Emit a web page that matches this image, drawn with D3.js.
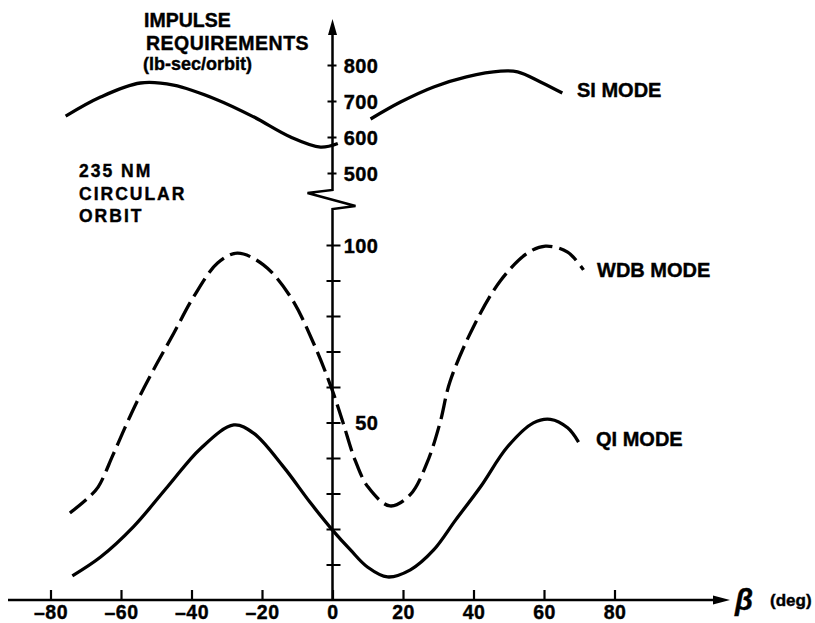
<!DOCTYPE html>
<html>
<head>
<meta charset="utf-8">
<script src="https://cdn.jsdelivr.net/npm/d3@7"></script>
<style>
  body { margin: 0; background: #fff; }
  svg { display: block; }
  text { font-family: "Liberation Sans", Arial, Helvetica, sans-serif; font-weight: bold; fill: #000; stroke: #000; stroke-width: 0.4px; }
</style>
</head>
<body>
<svg id="chart" width="815" height="623"></svg>
<script>
// ---- Data ----
const xTicks = [-80, -60, -40, -20, 0, 20, 40, 60, 80];
const upperTicks = [500, 600, 700, 800];
const lowerTicks = [10, 20, 30, 40, 50, 60, 70, 80, 90, 100];
const lowerLabels = [50, 100];

// SI mode (upper, broken scale), two segments
const siLeftBeta = [-75.7, -65.8, -54.5, -45.1, -32.6, -22.4, -11.9, -3.4, 1.5];
const siLeftVal  = [658, 711, 750, 744, 703, 656, 600, 572, 582];
const siRightBeta = [10.8, 19.3, 28.7, 38.0, 47.7, 52.5, 59.0, 65.2];
const siRightVal  = [650, 697, 739, 767, 783, 781, 753, 722];

// WDB mode (dashed, lower scale)
const wdbBeta = [-74.5, -69.4, -66.5, -62.3, -58.9, -55.5, -50.8, -45.0, -39.4, -32.6, -27.0, -19.6, -11.9, -5.4, -0.1, 3.0, 6.4, 10.1, 16.3, 22.0, 26.8, 30.5, 33.3, 40.0, 47.7, 55.3, 60.4, 66.7, 71.2];
const wdbVal  = [24.5, 28.7, 31.8, 40.8, 48.5, 55.8, 64.8, 75.2, 85.4, 94.9, 97.7, 94.4, 85.4, 72.4, 59.2, 49.9, 39.4, 31.8, 26.5, 29.6, 38.6, 49.9, 61.4, 77.0, 90.0, 97.7, 99.7, 98.0, 93.0];

// QI mode (solid, lower scale)
const qiBeta = [-73.8, -65.8, -56.5, -46.8, -37.4, -28.0, -22.4, -13.9, -6.2, 0, 5.1, 9.9, 15.6, 22.1, 28.7, 34.9, 42.0, 49.6, 57.0, 61.8, 66.7, 69.8];
const qiVal  = [6.8, 12.1, 20.6, 31.9, 42.7, 49.3, 47.0, 37.5, 27.3, 19.7, 14.1, 9.3, 6.5, 8.5, 14.1, 22.5, 31.9, 43.1, 49.9, 50.9, 48.5, 44.5];

const seriesLabels = ["SI MODE", "WDB MODE", "QI MODE"];
const titleLines = ["IMPULSE", "REQUIREMENTS", "(lb-sec/orbit)"];
const noteLines = ["235 NM", "CIRCULAR", "ORBIT"];

// ---- Scales ----
const svg = d3.select("#chart");
const x = d3.scaleLinear().domain([-80, 80]).range([50.5, 614.5]);
const yUp = d3.scaleLinear().domain([500, 800]).range([173, 65]);
const yLo = d3.scaleLinear().domain([0, 100]).range([600, 245]);
const x0 = x(0);

const zip = (a, b) => a.map((v, i) => [v, b[i]]);
const lineUp = d3.line().x(d => x(d[0])).y(d => yUp(d[1])).curve(d3.curveCatmullRom.alpha(0.5));
const lineLo = d3.line().x(d => x(d[0])).y(d => yLo(d[1])).curve(d3.curveCatmullRom.alpha(0.5));

// ---- Axes ----
const axisG = svg.append("g").attr("stroke", "#000").attr("fill", "none");
axisG.append("line").attr("x1", 8).attr("x2", 718).attr("y1", yLo(0)).attr("y2", yLo(0)).attr("stroke-width", 2.5);
svg.append("path").attr("d", `M730,${yLo(0)} L713,${yLo(0) - 4.5} L713,${yLo(0) + 4.5} Z`).attr("fill", "#000");

axisG.append("path")
  .attr("d", `M${x0},32 L${x0},190 L${x0 - 25},193 L${x0 + 23},206 L${x0},209 L${x0},${yLo(0)}`)
  .attr("stroke-width", 2.5).attr("stroke-linejoin", "miter");
svg.append("path").attr("d", `M${x0},19 L${x0 - 4.5},35 L${x0 + 4.5},35 Z`).attr("fill", "#000");

const xAxis = d3.axisBottom(x).tickValues(xTicks).tickSizeInner(-10).tickSizeOuter(0).tickFormat(d3.format("d"));
const gx = svg.append("g").attr("transform", `translate(0,${yLo(0)})`).call(xAxis);
gx.select(".domain").remove();
gx.selectAll(".tick line").attr("stroke", "#000").attr("stroke-width", 2.2);
gx.selectAll(".tick text").attr("y", 19).attr("dy", null)
  .style("font-size", "19.5px").style("font-weight", "bold").style("letter-spacing", "0.5px")
  .text(d => d < 0 ? "\u2013" + Math.abs(d) : d);

const yAxisUp = d3.axisRight(yUp).tickValues(upperTicks).tickSize(5).tickFormat(d3.format("d"));
const gyu = svg.append("g").attr("transform", `translate(${x0},0)`).call(yAxisUp);
gyu.select(".domain").remove();
gyu.selectAll(".tick line").attr("x1", -5).attr("x2", 4).attr("stroke", "#000").attr("stroke-width", 2);
gyu.selectAll(".tick text").attr("x", 46).attr("dy", "0.36em").attr("text-anchor", "end")
  .style("font-size", "20px").style("font-weight", "bold").style("letter-spacing", "0.5px");

const yAxisLo = d3.axisRight(yLo).tickValues(lowerTicks).tickSize(8)
  .tickFormat(d => lowerLabels.includes(d) ? d : "");
const gyl = svg.append("g").attr("transform", `translate(${x0},0)`).call(yAxisLo);
gyl.select(".domain").remove();
gyl.selectAll(".tick line").attr("x1", -6).attr("x2", 8).attr("stroke", "#000").attr("stroke-width", 2);
gyl.selectAll(".tick text").attr("x", 46).attr("dy", "0.36em").attr("text-anchor", "end")
  .style("font-size", "20px").style("font-weight", "bold").style("letter-spacing", "0.5px");

// ---- Curves ----
const curves = svg.append("g").attr("fill", "none").attr("stroke", "#000").attr("stroke-width", 3.3).attr("stroke-linecap", "butt");
curves.append("path").attr("d", lineUp(zip(siLeftBeta, siLeftVal)));
curves.append("path").attr("d", lineUp(zip(siRightBeta, siRightVal)));
curves.append("path").attr("d", lineLo(zip(wdbBeta, wdbVal))).attr("stroke-dasharray", "21,7");
curves.append("path").attr("d", lineLo(zip(qiBeta, qiVal)));

// ---- Labels ----
const lab = svg.append("g").style("font-size", "20px");
lab.append("text").attr("x", 577).attr("y", 97).text(seriesLabels[0]);
lab.append("text").attr("x", 597).attr("y", 277).text(seriesLabels[1]);
lab.append("text").attr("x", 596).attr("y", 446).text(seriesLabels[2]);

const title = svg.append("g");
title.append("text").attr("x", 144).attr("y", 27).style("font-size", "19.5px").text(titleLines[0]);
title.append("text").attr("x", 146).attr("y", 50).style("font-size", "19.5px").style("letter-spacing", "0.5px").text(titleLines[1]);
title.append("text").attr("x", 143).attr("y", 70).style("font-size", "18px").text(titleLines[2]);

const note = svg.append("g").style("font-size", "17.5px").style("letter-spacing", "2px");
note.append("text").attr("x", 79).attr("y", 177).text(noteLines[0]);
note.append("text").attr("x", 79).attr("y", 200).text(noteLines[1]);
note.append("text").attr("x", 79).attr("y", 222).text(noteLines[2]);

svg.append("text").attr("x", 735).attr("y", 610).style("font-size", "29px").style("font-style", "italic").style("font-weight", "bold").text("\u03B2");
svg.append("text").attr("x", 770).attr("y", 606).style("font-size", "17px").text("(deg)");
</script>
</body>
</html>
